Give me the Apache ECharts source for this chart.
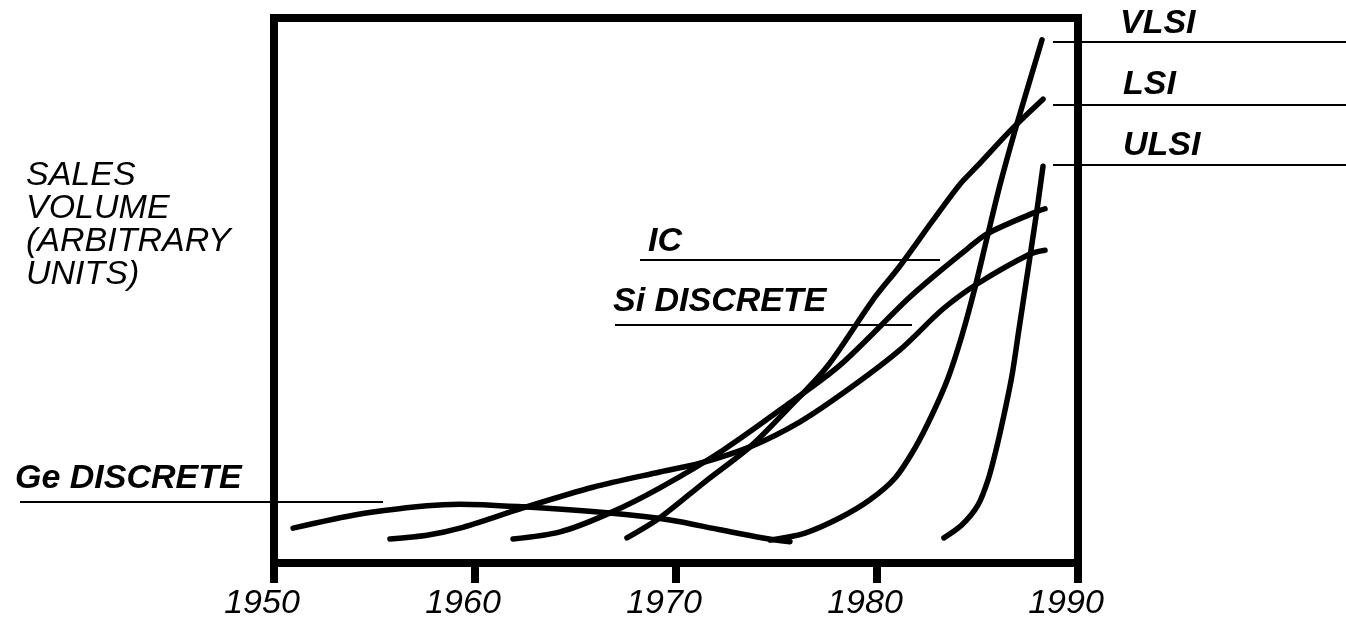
<!DOCTYPE html>
<html>
<head>
<meta charset="utf-8">
<script src="https://cdn.jsdelivr.net/npm/echarts@6/dist/echarts.min.js"></script>
<style>
html,body{margin:0;padding:0;background:#fff;}
#chart{width:1346px;height:625px;}
</style>
</head>
<body>
<div id="chart"></div>
<script>
// Tick labels (years)
const yearTicks = [1950, 1960, 1970, 1980, 1990];

// Series values: [year, sales volume (arbitrary units, 0-100)]
const geDiscrete = [[1950.95,6.4],[1954.28,9.0],[1957.61,10.5],[1959.25,10.8],[1962.39,10.3],[1966.57,9.2],[1969.70,7.9],[1972.19,6.1],[1974.33,4.6],[1975.67,3.9]];
const siDiscrete = [[1955.77,4.4],[1957.61,5.1],[1959.25,6.4],[1962.39,10.1],[1965.87,13.9],[1969.20,16.7],[1971.19,18.3],[1973.68,21.3],[1976.17,25.9],[1978.66,32.1],[1981.14,39.1],[1983.28,46.6],[1984.98,51.2],[1987.61,56.7],[1988.36,57.4]];
const ic = [[1961.89,4.4],[1964.23,5.7],[1966.72,9.2],[1969.20,13.8],[1972.34,20.7],[1975.67,29.4],[1978.16,36.3],[1981.49,48.3],[1982.79,52.5],[1984.48,57.6],[1985.47,60.4],[1987.76,64.2],[1988.36,65.0]];
const lsi = [[1967.56,4.6],[1969.20,8.3],[1971.44,14.9],[1973.68,21.3],[1975.52,28.1],[1977.51,36.0],[1979.80,48.3],[1981.14,54.5],[1982.79,62.9],[1984.13,69.5],[1984.98,72.8],[1986.62,79.3],[1988.26,85.1]];
const vlsi = [[1974.68,4.2],[1976.42,5.5],[1978.16,8.3],[1979.65,11.6],[1980.90,15.6],[1981.89,21.1],[1982.74,27.2],[1983.53,33.9],[1984.23,41.8],[1984.88,50.6],[1985.47,59.6],[1986.12,69.4],[1986.87,79.4],[1987.61,88.6],[1988.21,96.0]];
const ulsi = [[1983.33,4.6],[1984.23,7.0],[1985.02,10.6],[1985.52,15.2],[1985.92,20.7],[1986.32,27.2],[1986.72,34.5],[1987.06,42.8],[1987.36,50.1],[1987.66,57.4],[1987.96,64.8],[1988.26,72.8]];

const seriesNames = ['Ge DISCRETE','Si DISCRETE','IC','LSI','VLSI','ULSI'];
const seriesData = [geDiscrete, siDiscrete, ic, lsi, vlsi, ulsi];
const yAxisTitle = 'SALES\nVOLUME\n(ARBITRARY\nUNITS)';

const chart = echarts.init(document.getElementById('chart'), null, {renderer:'canvas'});

const labelFont = {fontFamily:'Liberation Sans', fontStyle:'italic', fontWeight:'bold', fontSize:34, fill:'#000'};
function txt(t, x, y){ return {type:'text', left:x, top:y, style:Object.assign({text:t}, labelFont)}; }
function leader(x1, x2, y){ return {type:'line', shape:{x1:x1, y1:y, x2:x2, y2:y}, style:{stroke:'#000', lineWidth:2}}; }

const option = {
  backgroundColor:'#fff',
  animation:false,
  grid:{left:274, right:268, top:18, bottom:62, show:true, borderColor:'#000', borderWidth:8, backgroundColor:'transparent'},
  xAxis:{
    type:'value', min:1950, max:1990, interval:10,
    axisLine:{show:false},
    axisTick:{show:true, length:20, lineStyle:{color:'#000', width:8}},
    splitLine:{show:false},
    axisLabel:{
      color:'#000', fontFamily:'Liberation Sans', fontStyle:'italic', fontSize:34, margin:24,
      padding:[0,24,0,0],
      formatter: v => yearTicks.includes(v) ? String(v) : ''
    }
  },
  yAxis:{
    type:'value', min:0, max:100,
    axisLine:{show:false}, axisTick:{show:false}, axisLabel:{show:false}, splitLine:{show:false}
  },
  series: seriesData.map((d,i)=>({
    name:seriesNames[i], type:'line', data:d, smooth:0.3, showSymbol:false, silent:true,
    lineStyle:{color:'#000', width:5.5, cap:'round', join:'round'}, clip:false
  })),
  graphic:[
    {type:'text', left:26, top:159, style:{text:yAxisTitle, fontFamily:'Liberation Sans', fontStyle:'italic', fontSize:34, lineHeight:33, fill:'#000'}},
    leader(1053,1346,42), leader(1053,1346,105), leader(1053,1346,165),
    leader(640,940,260), leader(615,912,325), leader(20,383,502),
    txt('VLSI',1120,7), txt('LSI',1123,68), txt('ULSI',1123,129),
    txt('IC',648,225), txt('Si DISCRETE',613,285), txt('Ge DISCRETE',15,462)
  ]
};
chart.setOption(option);
</script>
</body>
</html>
